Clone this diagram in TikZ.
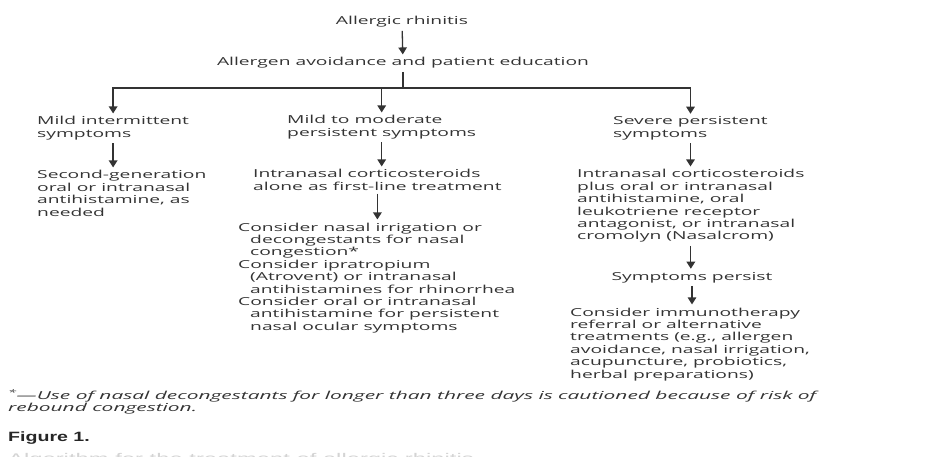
\documentclass[tikz,border=0pt]{standalone}
\usepackage{fontspec}
\setmainfont{Open Sans}[FakeStretch=1.75, ItalicFeatures={FakeStretch=1.9}]
\newfontfamily\capfont{Liberation Sans}[FakeStretch=1.45]
\newfontfamily\algfont{Liberation Sans}[FakeStretch=1.7]
\usetikzlibrary{arrows.meta,positioning,calc}
\definecolor{inkgray}{HTML}{333333}
\definecolor{fadegray}{HTML}{D4D4D4}
\tikzset{
    flow/.style = {-{Triangle[length=7pt,width=8.5pt]}, line width=1.3pt, draw=inkgray},
    link/.style = {line width=1.3pt, draw=inkgray},
    txt/.style  = {text=inkgray, font=\fontsize{11}{12.4}\selectfont, inner xsep=0pt, inner ysep=3pt, align=left},
    note/.style = {txt, font=\fontsize{11}{12.8}\selectfont\itshape},
    figlabel/.style = {text=black!85, font=\capfont\fontsize{13.5}{15}\selectfont\bfseries, inner sep=0pt},
    caption/.style  = {text=fadegray, font=\algfont\fontsize{14}{16}\selectfont, inner sep=0pt}
}
\begin{document}
\begin{tikzpicture}[x=1pt, y=-1pt]
    \useasboundingbox (0,0) rectangle (951,457);
    \clip (0,0) rectangle (951,457);
    \node[txt, anchor=base]      (rhin)    at (402,25)    {Allergic rhinitis};
    \node[txt, anchor=base]      (educ)    at (403,66)    {Allergen avoidance and patient education};
    \node[txt, anchor=base west] (mild)    at (37,137.4)  {Mild intermittent\\symptoms};
    \node[txt, anchor=base west] (moder)   at (287,136.4) {Mild to moderate\\persistent symptoms};
    \node[txt, anchor=base west] (sever)   at (613,137.4) {Severe persistent\\symptoms};
    \node[txt, anchor=base west] (antih)   at (37,216.2)  {Second-generation\\oral or intranasal\\antihistamine, as\\needed};
    \node[txt, anchor=base west] (icsone)  at (253,190.4) {Intranasal corticosteroids\\alone as first-line treatment};
    \node[txt, anchor=base west] (consid)  at (238,330.2) {Consider nasal irrigation or\\
        \hspace*{12pt}decongestants for nasal\\\hspace*{12pt}congestion*\\
        Consider ipratropium\\\hspace*{12pt}(Atrovent) or intranasal\\\hspace*{12pt}antihistamines for rhinorrhea\\
        Consider oral or intranasal\\\hspace*{12pt}antihistamine for persistent\\\hspace*{12pt}nasal ocular symptoms};
    \node[txt, anchor=base west] (icsplus) at (577,240)   {Intranasal corticosteroids\\plus oral or intranasal\\antihistamine, oral\\leukotriene receptor\\antagonist, or intranasal\\cromolyn (Nasalcrom)};
    \node[txt, anchor=base]      (persist) at (692,280)   {Symptoms persist};
    \node[txt, anchor=base west] (immuno)  at (570,378)   {Consider immunotherapy\\referral or alternative\\treatments (e.g., allergen\\avoidance, nasal irrigation,\\acupuncture, probiotics,\\herbal preparations)};
    \node[note, anchor=base west] (footnote) at (8,411.8) {\textsuperscript{*}---Use of nasal decongestants for longer than three days is cautioned because of risk of\\rebound congestion.};
    \node[figlabel, anchor=base west] (fignum) at (8,441) {Figure 1.};
    \node[caption, anchor=base west]  (figcap) at (8,463) {Algorithm for the treatment of allergic rhinitis};
    \coordinate (bar) at (403,88);
    \draw[flow] (rhin) -- (educ);
    \draw[link] (educ.south) -- (bar);
    \draw[flow] (bar) -| (mild.north);
    \draw[flow] (bar) -| (moder.north);
    \draw[flow] (bar) -| (sever.north);
    \draw[flow] (mild.south) -- (mild.south |- antih.north);
    \draw[flow] (moder.south) -- (moder.south |- icsone.north);
    \draw[flow] (icsone.south) -- (icsone.south |- consid.north);
    \draw[flow] (sever.south) -- (sever.south |- icsplus.north);
    \draw[flow] (icsplus.south) -- (icsplus.south |- persist.north);
    \draw[flow] (persist.south) -- (persist.south |- immuno.north);
\end{tikzpicture}
\end{document}
